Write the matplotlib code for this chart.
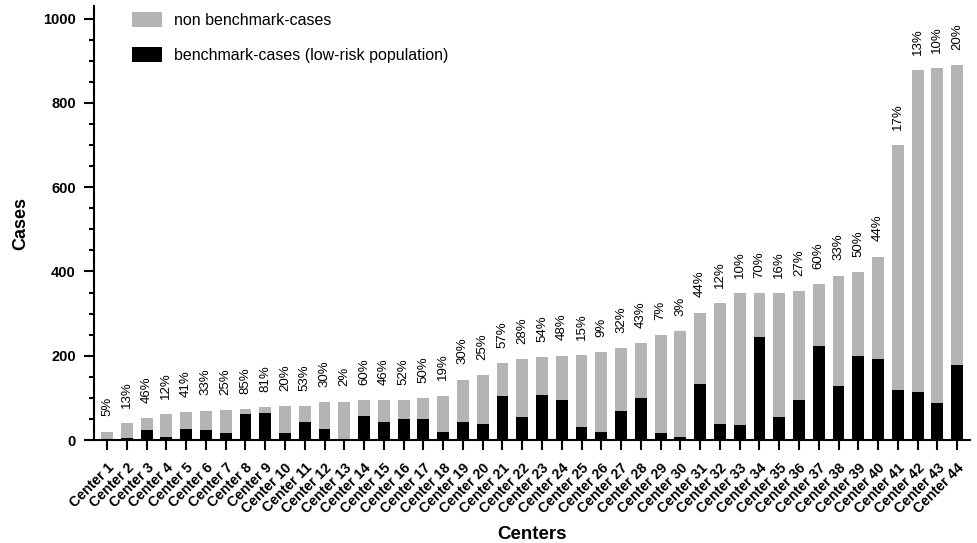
import matplotlib
matplotlib.use("Agg")
import matplotlib.pyplot as plt
import numpy as np
from matplotlib.patches import Patch
from matplotlib.ticker import MultipleLocator

plt.rcParams['font.family'] = ['Liberation Sans', 'DejaVu Sans']

# total cases per center and share of benchmark (low-risk) cases in percent
centers = [f"Center {i}" for i in range(1, 45)]
total_cases = [20, 40, 52, 61, 66, 70, 71, 73, 78, 81, 81, 89, 91, 94, 94,
               94, 100, 105, 143, 154, 182, 192, 197, 200, 201, 209, 218, 230,
               249, 259, 302, 325, 348, 348, 348, 354, 370, 390, 399, 435,
               699, 877, 882, 889]
benchmark_pct = [5, 13, 46, 12, 41, 33, 25, 85, 81, 20, 53, 30, 2, 60, 46,
                 52, 50, 19, 30, 25, 57, 28, 54, 48, 15, 9, 32, 43, 7, 3,
                 44, 12, 10, 70, 16, 27, 60, 33, 50, 44, 17, 13, 10, 20]

grey = '#b4b4b4'

total = np.array(total_cases, dtype=float)
bench = total * np.array(benchmark_pct) / 100.0
x = np.arange(len(centers))

fig = plt.figure(figsize=(9.77, 5.43), dpi=100)
ax = fig.add_axes([94/977, 1 - 440/543, (970 - 94)/977, (440 - 6)/543])

w = 0.6
ax.bar(x, total, width=w, color=grey, zorder=2)
ax.bar(x, bench, width=w, color='black', zorder=3)

for xi, t, p in zip(x, total, benchmark_pct):
    ax.annotate(f"{p}%", (xi, t), xytext=(0, 11), textcoords='offset points',
                rotation=90, ha='center', va='bottom', fontsize=9.5)

ax.set_xlim(-0.66, 43.65)
ax.set_ylim(0, 1030)
ax.yaxis.set_major_locator(MultipleLocator(200))
ax.yaxis.set_minor_locator(MultipleLocator(50))

ax.set_xticks(x)
ax.set_xticklabels(centers, rotation=45, ha='right', rotation_mode='anchor',
                   fontsize=10.2, fontweight='bold')
for lab in ax.get_yticklabels():
    lab.set_fontweight('bold')
ax.tick_params(axis='y', labelsize=10.5, pad=6)
ax.tick_params(which='major', length=7, width=1.5, direction='out')
ax.tick_params(which='minor', length=3.5, width=1.5, direction='out')
ax.tick_params(axis='x', pad=8)

for s in ('top', 'right'):
    ax.spines[s].set_visible(False)
for s in ('left', 'bottom'):
    ax.spines[s].set_linewidth(1.5)

ax.set_ylabel("Cases", fontsize=13, fontweight='bold', labelpad=10)
ax.set_xlabel("Centers", fontsize=13.5, fontweight='bold', labelpad=7)

handles = [Patch(facecolor=grey, edgecolor='none'),
           Patch(facecolor='black', edgecolor='none')]
fig.legend(handles, ["non benchmark-cases",
                     "benchmark-cases (low-risk population)"],
           loc='upper left', bbox_to_anchor=(132/977, 1 - 12/543),
           frameon=False, fontsize=11.5, borderpad=0, borderaxespad=0,
           handlelength=1.9, handleheight=1.05, handletextpad=0.75,
           labelspacing=1.2)

fig.savefig("out.png", dpi=100)
